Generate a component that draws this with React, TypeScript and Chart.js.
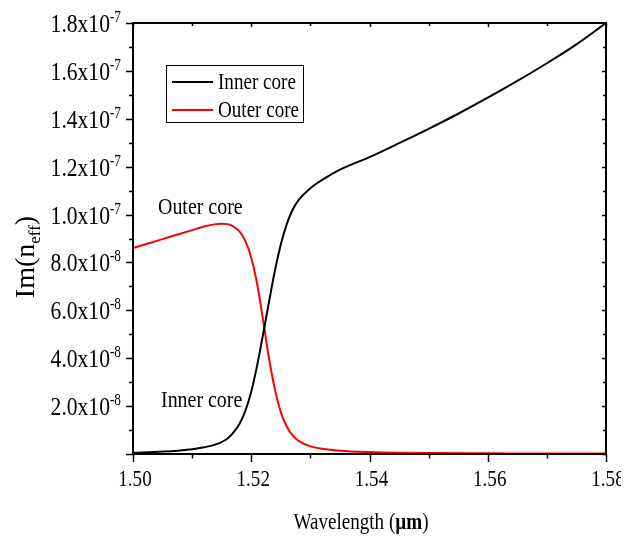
import React, { useEffect, useRef } from "react";
import { Chart, registerables } from "chart.js";

Chart.register(...registerables);

// Wavelength samples (µm) and imaginary part of n_eff (in units of 1e-8)
const innerWavelength = [
  1.5, 1.505, 1.508, 1.51, 1.512, 1.514, 1.516, 1.517, 1.518, 1.519, 1.52, 1.521,
  1.522, 1.523, 1.524, 1.525, 1.526, 1.527, 1.528, 1.53, 1.532, 1.535, 1.54, 1.545,
  1.55, 1.555, 1.56, 1.565, 1.57, 1.575, 1.58,
];
const innerImag = [
  0.05, 0.1, 0.15, 0.2, 0.28, 0.4, 0.65, 0.9, 1.25, 1.8, 2.6, 3.7,
  5.0, 6.35, 7.65, 8.75, 9.6, 10.2, 10.6, 11.1, 11.45, 11.88, 12.4, 12.98,
  13.58, 14.21, 14.88, 15.58, 16.32, 17.11, 18.0,
];

const outerWavelength = [
  1.5, 1.502, 1.504, 1.506, 1.508, 1.51, 1.512, 1.514, 1.515, 1.516, 1.517, 1.518,
  1.519, 1.52, 1.521, 1.522, 1.523, 1.524, 1.525, 1.526, 1.527, 1.528, 1.53, 1.532,
  1.535, 1.54, 1.545, 1.55, 1.56, 1.57, 1.58,
];
const outerImag = [
  8.6, 8.75, 8.9, 9.05, 9.2, 9.35, 9.5, 9.6, 9.62, 9.6, 9.5, 9.3,
  8.9, 8.2, 7.1, 5.6, 4.0, 2.7, 1.75, 1.15, 0.78, 0.55, 0.32, 0.22,
  0.14, 0.08, 0.05, 0.04, 0.03, 0.02, 0.02,
];

// Axis ticks
const xMajorTicks = [1.5, 1.52, 1.54, 1.56, 1.58];
const xMajorLabels = ["1.50", "1.52", "1.54", "1.56", "1.58"];
const xMinorTicks = [1.51, 1.53, 1.55, 1.57];
const yMajorTicks = [0, 2, 4, 6, 8, 10, 12, 14, 16, 18];
const yMajorMantissa = ["", "2.0x10", "4.0x10", "6.0x10", "8.0x10", "1.0x10", "1.2x10", "1.4x10", "1.6x10", "1.8x10"];
const yMajorExponent = ["", "-8", "-8", "-8", "-8", "-7", "-7", "-7", "-7", "-7"];
const yMinorTicks = [1, 3, 5, 7, 9, 11, 13, 15, 17];

const seriesNames = ["Inner core", "Outer core"];
const seriesColors = ["#000000", "#ff0000"];

const FONT = '"Liberation Serif", "Times New Roman", serif';
const SX = 0.83; // horizontal condensing of the serif lettering

function measure(ctx: CanvasRenderingContext2D, text: string, size: number, bold = false) {
  ctx.save();
  ctx.font = `${bold ? "bold " : ""}${size}px ${FONT}`;
  const w = ctx.measureText(text).width * SX;
  ctx.restore();
  return w;
}

function drawText(
  ctx: CanvasRenderingContext2D,
  text: string,
  x: number,
  y: number,
  size: number,
  align: "left" | "center" | "right" = "left",
  bold = false
) {
  const w = measure(ctx, text, size, bold);
  const left = align === "left" ? x : align === "center" ? x - w / 2 : x - w;
  ctx.save();
  ctx.font = `${bold ? "bold " : ""}${size}px ${FONT}`;
  ctx.textAlign = "left";
  ctx.textBaseline = "alphabetic";
  ctx.fillStyle = "#000";
  ctx.translate(left, y);
  ctx.scale(SX, 1);
  ctx.fillText(text, 0, 0);
  ctx.restore();
  return w;
}

const decorPlugin = {
  id: "fiberDecor",
  afterDraw(chart: Chart) {
    const { ctx, chartArea } = chart;
    const xs = chart.scales.x;
    const ys = chart.scales.y;
    const { left, right, top, bottom } = chartArea;

    ctx.save();
    ctx.strokeStyle = "#000";
    ctx.lineWidth = 2;
    ctx.strokeRect(left, top, right - left, bottom - top);

    // tick marks: outward on bottom/left, inward on top/right
    ctx.lineWidth = 1.5;
    ctx.beginPath();
    const xTick = (v: number, outLen: number, inLen: number) => {
      const px = Math.round(xs.getPixelForValue(v)) + 0.5;
      ctx.moveTo(px, bottom);
      ctx.lineTo(px, bottom + outLen);
      ctx.moveTo(px, top);
      ctx.lineTo(px, top + inLen);
    };
    const yTick = (v: number, outLen: number, inLen: number) => {
      const py = Math.round(ys.getPixelForValue(v)) + 0.5;
      ctx.moveTo(left, py);
      ctx.lineTo(left - outLen, py);
      ctx.moveTo(right, py);
      ctx.lineTo(right - inLen, py);
    };
    xMajorTicks.forEach((v) => xTick(v, 8, 4));
    xMinorTicks.forEach((v) => xTick(v, 4.5, 3));
    yMajorTicks.forEach((v) => yTick(v, 7, 4));
    yMinorTicks.forEach((v) => yTick(v, 4, 3));
    ctx.stroke();

    // x tick labels (clipped at the figure's right margin)
    ctx.save();
    ctx.beginPath();
    ctx.rect(0, 0, 621, chart.height);
    ctx.clip();
    xMajorTicks.forEach((v, i) => {
      drawText(ctx, xMajorLabels[i], xs.getPixelForValue(v) + 2, bottom + 32, 23, "center");
    });
    ctx.restore();

    // y tick labels with superscript exponents
    yMajorTicks.forEach((v, i) => {
      if (!yMajorMantissa[i]) return;
      const py = ys.getPixelForValue(v);
      const rightEdge = left - 12;
      const wExp = measure(ctx, yMajorExponent[i], 16);
      drawText(ctx, yMajorExponent[i], rightEdge, py - 1, 16, "right");
      drawText(ctx, yMajorMantissa[i], rightEdge - wExp, py + 9, 26, "right");
    });

    // x axis title: Wavelength (µm) with bold µm
    {
      const parts = [
        { t: "Wavelength (", b: false },
        { t: "\u00b5m", b: true },
        { t: ")", b: false },
      ];
      const size = 23;
      const total = parts.reduce((s, p) => s + measure(ctx, p.t, size, p.b), 0);
      let x = 361 - total / 2;
      parts.forEach((p) => {
        x += drawText(ctx, p.t, x, 529, size, "left", p.b);
      });
    }

    // y axis title: Im(n_eff), rotated
    {
      ctx.save();
      ctx.translate(34, 257);
      ctx.rotate(-Math.PI / 2);
      const big = 28;
      const small = 17;
      ctx.fillStyle = "#000";
      const segs = [
        { t: "Im(n", s: big, dy: 0 },
        { t: "eff", s: small, dy: 6 },
        { t: ")", s: big, dy: 0 },
      ];
      const widths = segs.map((g) => {
        ctx.font = `${g.s}px ${FONT}`;
        return ctx.measureText(g.t).width;
      });
      const total = widths.reduce((a, b) => a + b, 0);
      let x = -total / 2;
      segs.forEach((g, i) => {
        ctx.font = `${g.s}px ${FONT}`;
        ctx.textBaseline = "alphabetic";
        ctx.fillText(g.t, x, g.dy);
        x += widths[i];
      });
      ctx.restore();
    }

    // legend box
    {
      ctx.lineWidth = 1;
      ctx.strokeStyle = "#000";
      ctx.strokeRect(166.5, 65.5, 137, 57);
      const rows = [82, 110];
      rows.forEach((ry, i) => {
        ctx.strokeStyle = seriesColors[i];
        ctx.lineWidth = 2;
        ctx.beginPath();
        ctx.moveTo(172, ry);
        ctx.lineTo(213, ry);
        ctx.stroke();
        drawText(ctx, seriesNames[i], 218, ry + 7, 23, "left");
      });
    }

    // in-plot curve labels
    drawText(ctx, "Outer core", 158, 214, 24, "left");
    drawText(ctx, "Inner core", 161, 407, 24, "left");

    ctx.restore();
  },
};

export default function App() {
  const canvasRef = useRef<HTMLCanvasElement | null>(null);

  useEffect(() => {
    if (!canvasRef.current) return;
    const chart = new Chart(canvasRef.current, {
      type: "line",
      data: {
        datasets: [
          {
            label: seriesNames[0],
            data: innerWavelength.map((x, i) => ({ x, y: innerImag[i] })),
            borderColor: seriesColors[0],
            borderWidth: 2,
            pointRadius: 0,
            cubicInterpolationMode: "monotone",
            fill: false,
          },
          {
            label: seriesNames[1],
            data: outerWavelength.map((x, i) => ({ x, y: outerImag[i] })),
            borderColor: seriesColors[1],
            borderWidth: 2,
            pointRadius: 0,
            cubicInterpolationMode: "monotone",
            fill: false,
          },
        ],
      },
      options: {
        animation: false,
        responsive: false,
        devicePixelRatio: 1,
        layout: { padding: { left: 133, top: 23, right: 33, bottom: 82 } },
        plugins: { legend: { display: false }, tooltip: { enabled: false } },
        scales: {
          x: { type: "linear", min: 1.5, max: 1.58, display: false },
          y: { type: "linear", min: 0, max: 18, display: false },
        },
      },
      plugins: [decorPlugin],
    });
    return () => chart.destroy();
  }, []);

  return (
    <div style={{ position: "absolute", left: 0, top: 0, width: 639, height: 536, background: "#fff" }}>
      <canvas ref={canvasRef} width={639} height={536} style={{ display: "block" }} />
    </div>
  );
}
